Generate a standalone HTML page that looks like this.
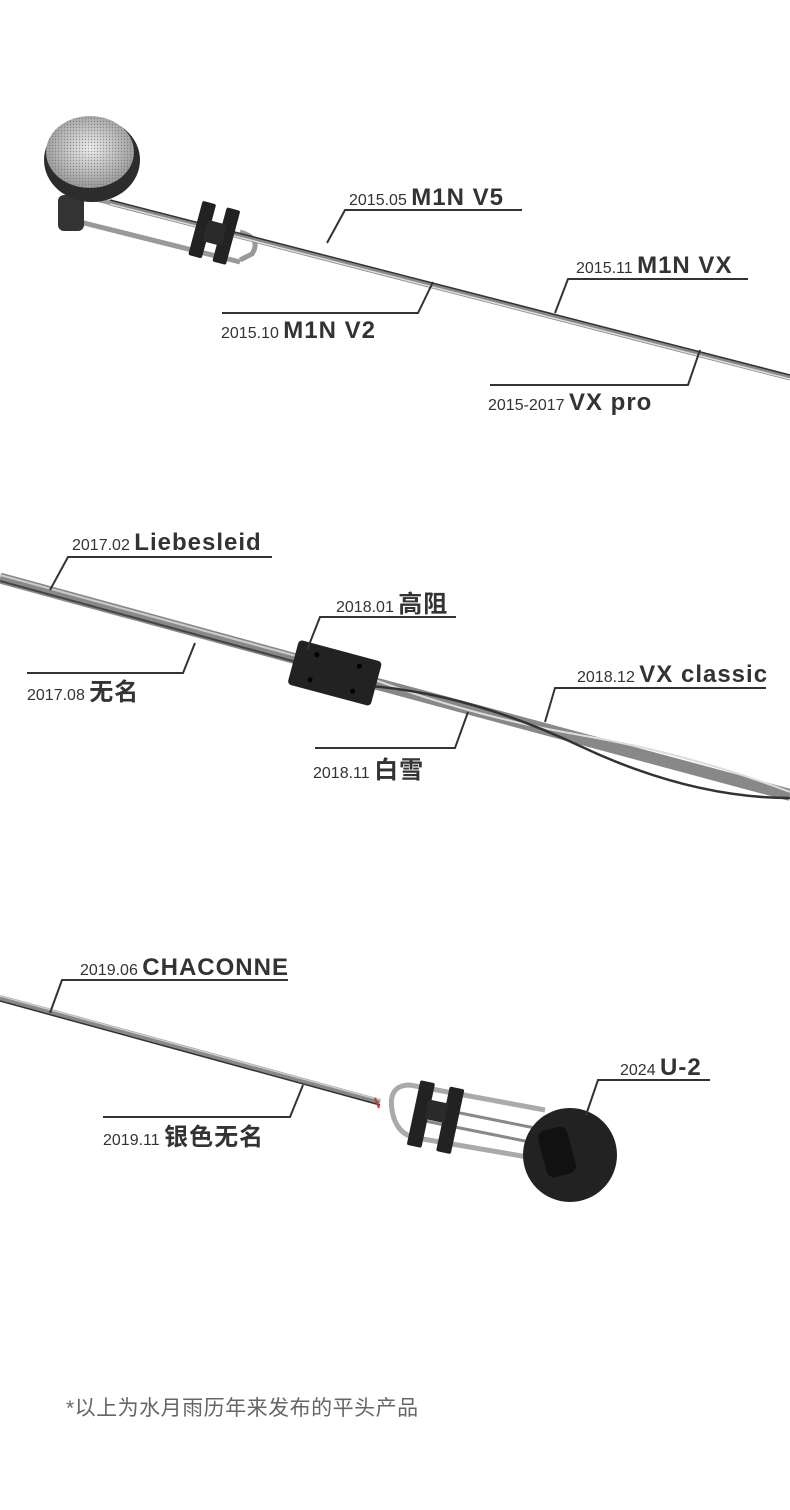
<!DOCTYPE html>
<html><head><meta charset="utf-8"><style>
body{margin:0;background:#fff}
svg{display:block}
text{font-family:"Liberation Sans","Noto Sans CJK SC",sans-serif;fill:#333}
.d{font-size:16px}
.n{font-size:24px;font-weight:bold;letter-spacing:1px}
.l{stroke:#333;stroke-width:2;fill:none}
</style></head><body>
<svg width="790" height="1510" viewBox="0 0 790 1510" xmlns="http://www.w3.org/2000/svg">
<defs>
<radialGradient id="mesh" cx="50%" cy="45%" r="55%"><stop offset="0" stop-color="#eee"/><stop offset="1" stop-color="#999"/></radialGradient>
<pattern id="dots" width="3" height="3" patternUnits="userSpaceOnUse"><circle cx="1.5" cy="1.5" r="0.7" fill="#666"/></pattern>
</defs>

<!-- Section 1 -->
<g>
<line x1="80" y1="195" x2="250" y2="238" stroke="#999" stroke-width="5"/>
<line x1="80" y1="222" x2="240" y2="262" stroke="#999" stroke-width="5"/>
<path d="M240 232 q22 6 12 22 l-12 6" stroke="#999" stroke-width="5" fill="none"/>
<path d="M110 203 L790 378" stroke="#888" stroke-width="5"/>
<path d="M110 204 L790 379" stroke="#ddd" stroke-width="1.5"/>
<path d="M110 200 L790 375" stroke="#333" stroke-width="1.5"/>
<rect x="58" y="195" width="26" height="36" rx="6" fill="#333"/>
<ellipse cx="92" cy="160" rx="48" ry="42" fill="#2c2c2c"/>
<ellipse cx="90" cy="152" rx="44" ry="36" fill="url(#mesh)"/>
<ellipse cx="90" cy="152" rx="44" ry="36" fill="url(#dots)" opacity="0.6"/>
<g transform="rotate(15 215 232)"><rect x="195" y="205" width="14" height="56" rx="2" fill="#222"/><rect x="220" y="205" width="14" height="56" rx="2" fill="#222"/><rect x="205" y="222" width="20" height="22" fill="#2a2a2a"/></g>
</g>
<path class="l" d="M522 210 H345 L327 243"/>
<text x="349" y="205"><tspan class="d">2015.05 </tspan><tspan class="n">M1N  V5</tspan></text>
<path class="l" d="M222 313 H418 L433 282"/>
<text x="221" y="338"><tspan class="d">2015.10 </tspan><tspan class="n">M1N  V2</tspan></text>
<path class="l" d="M748 279 H568 L555 313"/>
<text x="576" y="273"><tspan class="d">2015.11 </tspan><tspan class="n">M1N  VX</tspan></text>
<path class="l" d="M490 385 H688 L700 350"/>
<text x="488" y="410"><tspan class="d">2015-2017 </tspan><tspan class="n">VX pro</tspan></text>

<!-- Section 2 -->
<path d="M0 578 L300 660" stroke="#888" stroke-width="11"/>
<path d="M0 575 L300 657" stroke="#ccc" stroke-width="2"/>
<path d="M0 581 L300 663" stroke="#444" stroke-width="2"/>
<path d="M370 682 L790 795" stroke="#888" stroke-width="12"/>
<path d="M370 678 Q470 716 580 735 T790 792" stroke="#ddd" stroke-width="2" fill="none"/>
<path d="M370 686 Q470 694 580 746 T790 798" stroke="#333" stroke-width="2.5" fill="none"/>
<g transform="rotate(15 335 672)"><rect x="292" y="650" width="86" height="46" rx="4" fill="#222"/>
<circle cx="313" cy="660" r="2.5" fill="#000"/><circle cx="313" cy="686" r="2.5" fill="#000"/><circle cx="357" cy="660" r="2.5" fill="#000"/><circle cx="357" cy="686" r="2.5" fill="#000"/></g>
<path class="l" d="M272 557 H68 L50 590"/>
<text x="72" y="550"><tspan class="d">2017.02 </tspan><tspan class="n">Liebesleid</tspan></text>
<path class="l" d="M27 673 H183 L195 643"/>
<text x="27" y="700"><tspan class="d">2017.08 </tspan><tspan class="n">无名</tspan></text>
<path class="l" d="M456 617 H320 L307 650"/>
<text x="336" y="612"><tspan class="d">2018.01 </tspan><tspan class="n">高阻</tspan></text>
<path class="l" d="M766 688 H555 L545 722"/>
<text x="577" y="682"><tspan class="d">2018.12 </tspan><tspan class="n">VX classic</tspan></text>
<path class="l" d="M315 748 H455 L468 712"/>
<text x="313" y="778"><tspan class="d">2018.11 </tspan><tspan class="n">白雪</tspan></text>

<!-- Section 3 -->
<path d="M0 998 L380 1102" stroke="#888" stroke-width="6"/>
<path d="M0 996 L380 1100" stroke="#ccc" stroke-width="1.5"/>
<path d="M0 1001 L380 1105" stroke="#333" stroke-width="1.5"/>
<line x1="375" y1="1098" x2="379" y2="1108" stroke="#c33" stroke-width="2"/>
<path d="M545 1110 L410 1085 q-22 0 -18 25 q4 25 25 28 L545 1160" stroke="#aaa" stroke-width="5" fill="none"/>
<path d="M545 1130 L420 1105 M545 1145 L420 1120" stroke="#888" stroke-width="3"/>
<circle cx="570" cy="1155" r="47" fill="#222"/>
<rect x="542" y="1128" width="30" height="48" rx="8" fill="#111" transform="rotate(-15 557 1152)"/>
<g transform="rotate(12 430 1117)"><rect x="413" y="1083" width="15" height="66" rx="2" fill="#222"/><rect x="443" y="1083" width="15" height="66" rx="2" fill="#222"/><rect x="425" y="1100" width="20" height="20" fill="#2a2a2a"/></g>
<path class="l" d="M288 980 H62 L50 1013"/>
<text x="80" y="975"><tspan class="d">2019.06 </tspan><tspan class="n">CHACONNE</tspan></text>
<path class="l" d="M103 1117 H290 L303 1085"/>
<text x="103" y="1145"><tspan class="d">2019.11 </tspan><tspan class="n">银色无名</tspan></text>
<path class="l" d="M710 1080 H598 L586 1115"/>
<text x="620" y="1075"><tspan class="d">2024 </tspan><tspan class="n">U-2</tspan></text>

<text x="66" y="1415" style="font-size:21px;fill:#666;letter-spacing:0.5px">*以上为水月雨历年来发布的平头产品</text>
</svg>
</body></html>
